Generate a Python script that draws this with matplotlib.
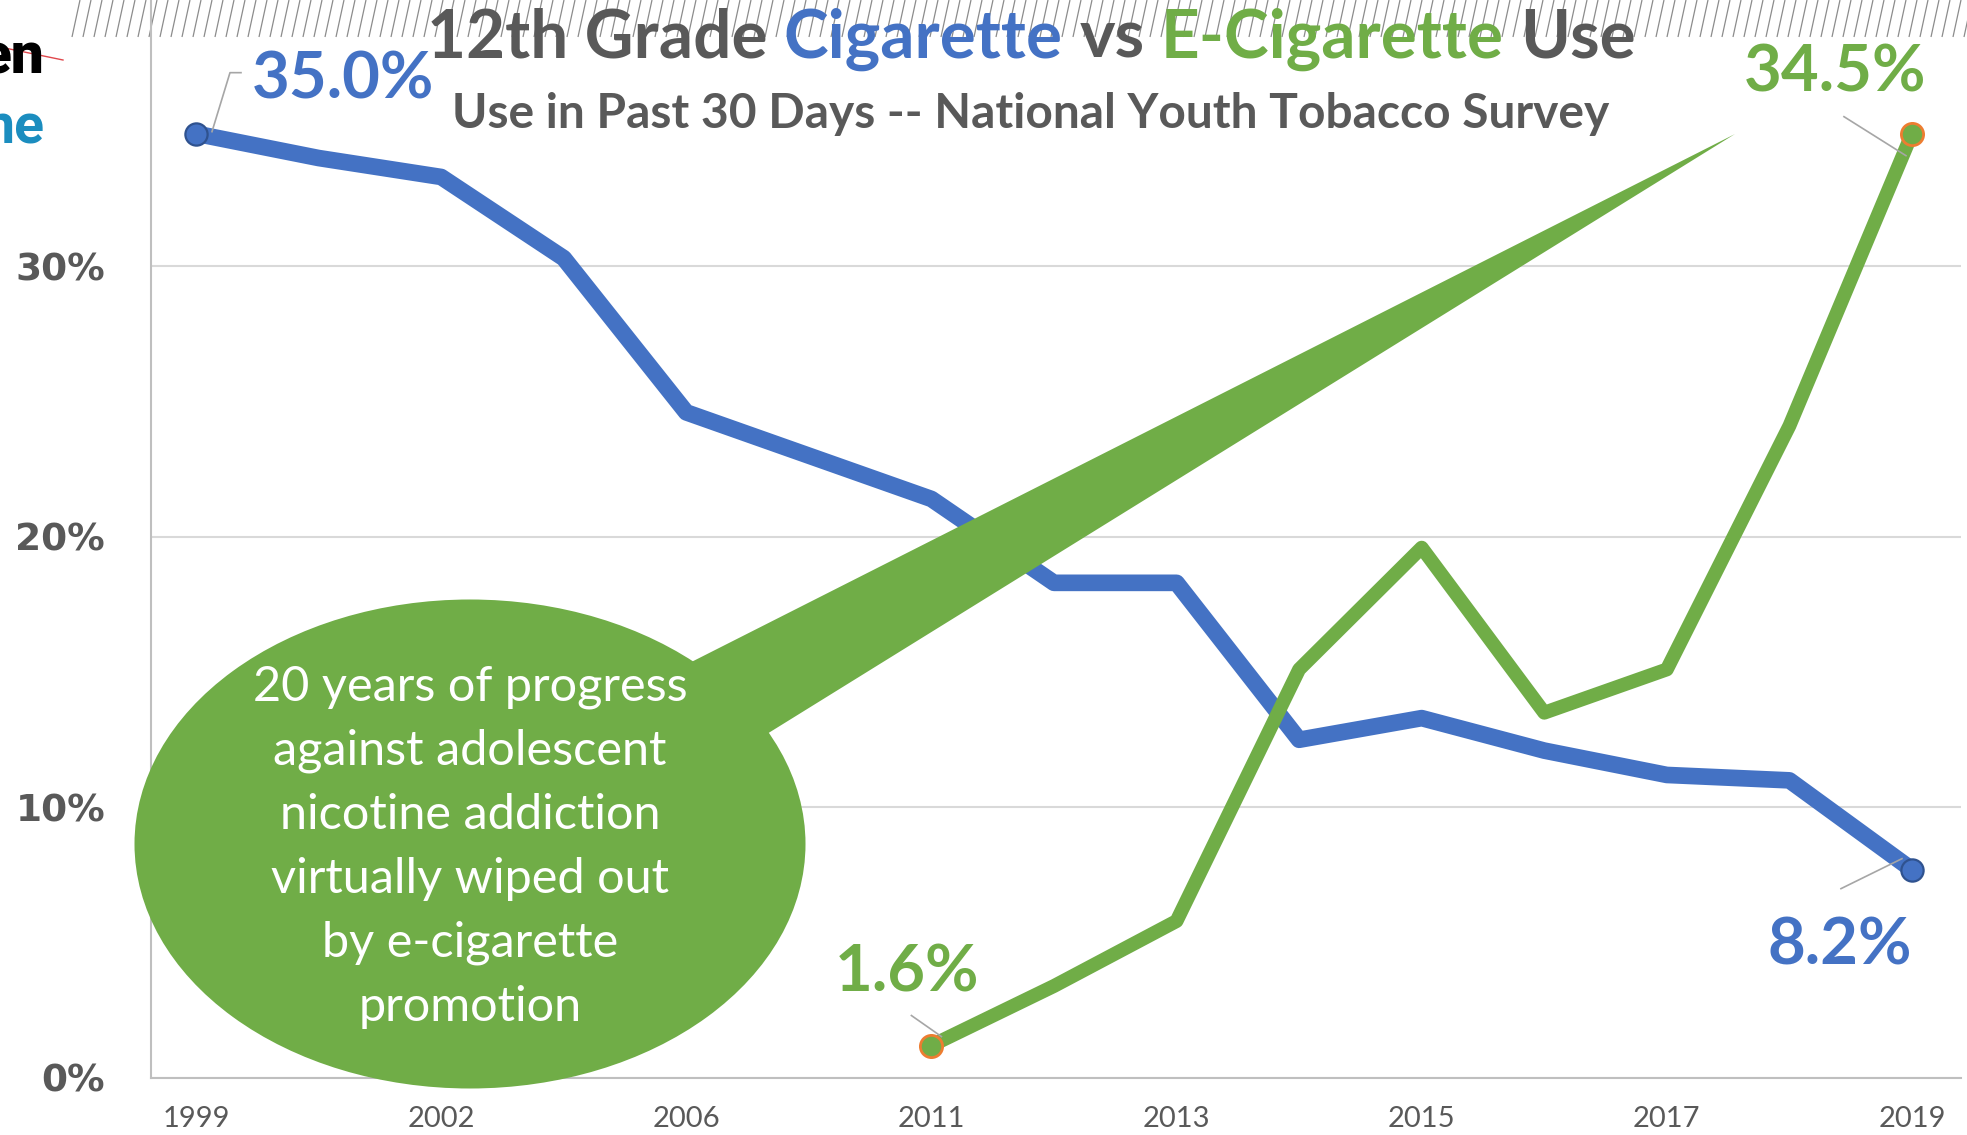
import numpy as np
import matplotlib
matplotlib.use("Agg")
import matplotlib.pyplot as plt
from matplotlib.patches import Ellipse, Polygon
from matplotlib.lines import Line2D
from matplotlib.collections import LineCollection
from matplotlib.transforms import IdentityTransform

# --- data ---
years = ['1999', '2000', '2002', '2004', '2006', '2009', '2011', '2012',
         '2013', '2014', '2015', '2016', '2017', '2018', '2019']
cigarette = [34.9, 34.0, 33.3, 30.3, 24.6, 23.0, 21.4, 18.3,
             18.3, 12.5, 13.3, 12.1, 11.2, 11.0, 7.7]
e_cigarette = [np.nan, np.nan, np.nan, np.nan, np.nan, np.nan, 1.2, 3.4,
               5.8, 15.1, 19.6, 13.5, 15.1, 24.1, 34.9]
shown_years = years[::2]
cig_labels = ['35.0%', '8.2%']
ecig_labels = ['1.6%', '34.5%']
callout = ("20 years of progress\nagainst adolescent\nnicotine addiction\n"
           "virtually wiped out\nby e-cigarette\npromotion")

BLUE = '#4472C4'
GREEN = '#70AD47'
GRAY = '#595959'
ORANGE = '#ED7D31'
FONT = 'Lato'

W, H = 1967, 1135
fig = plt.figure(figsize=(W / 100, H / 100), dpi=100)
fig.patch.set_facecolor('white')

# background layer in pixel coords (hatch strip + cropped logo bits)
bg = fig.add_axes([0, 0, 1, 1], zorder=-1)
bg.set_xlim(0, W)
bg.set_ylim(H, 0)
bg.axis('off')
hx = np.arange(72, W, 11)
segs = [[(x, 37), (x + 8, 0)] for x in hx]
bg.add_collection(LineCollection(segs, colors='#8c8c8c', linewidths=0.9))
bg.text(44, 73, 'en', ha='right', va='baseline', fontsize=42, fontweight='heavy',
        family='Roboto', color='black')
bg.text(44, 143, 'ne', ha='right', va='baseline', fontsize=40, fontweight='bold',
        family='Roboto', color='#1b8dbf')
bg.plot([0, 63], [47, 60], color='#e0474c', lw=1)

# main chart
ax = fig.add_axes([151 / W, (H - 1078) / H, (1961 - 151) / W, 1078 / H])
ax.patch.set_visible(False)
x = np.arange(len(years))
ax.plot(x, cigarette, color=BLUE, lw=12, solid_joinstyle='round',
        solid_capstyle='round', zorder=3)
ax.plot(x, e_cigarette, color=GREEN, lw=10, solid_joinstyle='round',
        solid_capstyle='round', zorder=4)
ends_c = [0, len(years) - 1]
ends_e = [6, len(years) - 1]
ax.plot(x[ends_c], np.array(cigarette)[ends_c], 'o', ms=16, mfc=BLUE,
        mec='#2F528F', mew=1.6, zorder=5)
ax.plot(x[ends_e], np.array(e_cigarette)[ends_e], 'o', ms=16, mfc=GREEN,
        mec=ORANGE, mew=2, zorder=5)

ax.set_xlim(-0.367, 14.40)
ax.set_ylim(0, 39.84)
ax.set_yticks([0, 10, 20, 30])
ax.set_yticklabels(['0%', '10%', '20%', '30%'])
ax.set_xticks(x[::2])
ax.set_xticklabels(shown_years)
ax.grid(axis='y', color='#d9d9d9', lw=1.5)
ax.set_axisbelow(True)
for s in ['top', 'right']:
    ax.spines[s].set_visible(False)
for s in ['left', 'bottom']:
    ax.spines[s].set_color('#bfbfbf')
    ax.spines[s].set_linewidth(1.5)
ax.tick_params(axis='y', length=0, pad=33, labelsize=27, labelcolor=GRAY)
ax.tick_params(axis='x', length=0, pad=20, labelsize=21, labelcolor=GRAY)
for t in ax.get_yticklabels():
    t.set_family('DejaVu Sans')
    t.set_fontweight('bold')
for t in ax.get_xticklabels():
    t.set_family(FONT)


def value_label(i, v, text, dx, dy, color, ha):
    ax.annotate(text, xy=(i, v), xytext=(dx, dy), textcoords='offset pixels',
                ha=ha, va='baseline', fontsize=47, fontweight='bold',
                family=FONT, color=color, annotation_clip=False, zorder=6)


def leader(i, v, offsets):
    px, py = ax.transData.transform((i, v))
    xs = [px + o[0] for o in offsets]
    ys = [py + o[1] for o in offsets]
    fig.add_artist(Line2D(xs, ys, transform=IdentityTransform(),
                          color='#a6a6a6', lw=1.2, zorder=4))


last = len(years) - 1
value_label(0, cigarette[0], cig_labels[0], 56, 35, BLUE, 'left')
leader(0, cigarette[0], [(45, 61), (34, 61), (16, 2)])
value_label(last, cigarette[last], cig_labels[1], -72, -95, BLUE, 'center')
leader(last, cigarette[last], [(-71, -19), (-10, 11)])
value_label(6, e_cigarette[6], ecig_labels[0], -24, 54, GREEN, 'center')
leader(6, e_cigarette[6], [(-20, 30), (10, 9)])
value_label(last, e_cigarette[last], ecig_labels[1], -77, 42, GREEN, 'center')
leader(last, e_cigarette[last], [(-68, 17), (-6, -22)])

# multi-coloured title
renderer = fig.canvas.get_renderer()
title_parts = [('12th Grade', GRAY), ('Cigarette', BLUE), ('vs', GRAY),
               ('E-Cigarette', GREEN), ('Use', GRAY)]
tsize = 48.5
probe = fig.text(0, 0, 'a a', fontsize=tsize, fontweight='bold', family=FONT)
probe2 = fig.text(0, 0, 'aa', fontsize=tsize, fontweight='bold', family=FONT)
space_w = (probe.get_window_extent(renderer).width
           - probe2.get_window_extent(renderer).width)
probe.remove()
probe2.remove()
xpos = 427
for s, c in title_parts:
    t = fig.text(xpos, H - 58, s, transform=IdentityTransform(), fontsize=tsize,
                 fontweight='bold', family=FONT, color=c, va='baseline', zorder=3)
    xpos += t.get_window_extent(renderer).width + space_w

fig.text(452, H - 128, 'Use in Past 30 Days -- National Youth Tobacco Survey',
         transform=IdentityTransform(), fontsize=34.5, fontweight='bold',
         family=FONT, color=GRAY, va='baseline', zorder=3)

# callout bubble on top
fg = fig.add_axes([0, 0, 1, 1], zorder=5)
fg.set_xlim(0, W)
fg.set_ylim(H, 0)
fg.axis('off')
fg.add_patch(Polygon([(470, 774), (470, 918), (1735, 134)], closed=True,
                     facecolor=GREEN, edgecolor='none'))
fg.add_patch(Ellipse((470, 844), 671, 489, facecolor=GREEN, edgecolor='none'))
fg.text(470, 847, callout, ha='center', va='center', fontsize=35, family=FONT,
        color='white', linespacing=1.55)

fig.savefig('out.png', dpi=100)
